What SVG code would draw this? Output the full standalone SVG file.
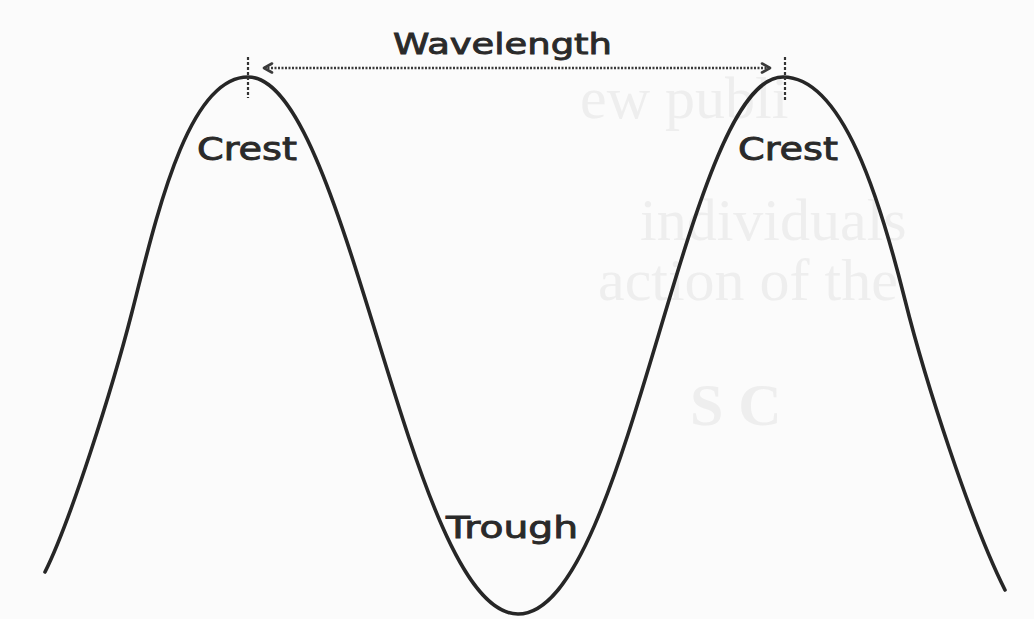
<svg xmlns="http://www.w3.org/2000/svg" width="1034" height="619" viewBox="0 0 1034 619">
  <style>
    .bg { fill: #fbfbfb; }
    .ghost { font-family: "Liberation Serif", serif; font-size: 60px; fill: #eeeeee; }
    .wave { fill: none; stroke: #262626; stroke-width: 3.6; stroke-linecap: round; stroke-linejoin: round; }
    .label { font-family: "DejaVu Sans", "Liberation Sans", sans-serif; fill: #2a2a2a; stroke: #2a2a2a; stroke-width: 0.9; }
    .tick { stroke: #333; stroke-width: 2.2; stroke-dasharray: 3 2; fill: none; }
    .dim { stroke: #3a3a3a; stroke-width: 2.6; stroke-dasharray: 2 1.5; fill: none; }
    .head { fill: none; stroke: #3a3a3a; stroke-width: 2.6; stroke-linecap: round; stroke-linejoin: round; }
  </style>
  <defs>
    <marker id="arrowEnd" viewBox="0 0 12 12" refX="10" refY="6" markerWidth="12" markerHeight="12" markerUnits="userSpaceOnUse" orient="auto">
      <path class="head" d="M2,1.5 L10,6 L2,10.5"/>
    </marker>
    <marker id="arrowStart" viewBox="0 0 12 12" refX="2" refY="6" markerWidth="12" markerHeight="12" markerUnits="userSpaceOnUse" orient="auto">
      <path class="head" d="M10,1.5 L2,6 L10,10.5"/>
    </marker>
  </defs>
  <rect class="bg" x="0" y="0" width="1034" height="619"/>
  <g id="bleed-through">
    <text class="ghost" x="580" y="118">ew publi</text>
    <text class="ghost" x="640" y="240">individuals</text>
    <text class="ghost" x="598" y="300">action of the</text>
    <text class="ghost" x="690" y="425" font-weight="bold">S C</text>
  </g>
  <g id="wave">
    <path class="wave" d="M45,572 C70,522 112,390 132,312 C157,214 188,77 248,77 C348,77 409,614 518,614 C629,614 685,77 783,77 C843,77 880,200 905,300 C925,380 970,520 1005,590"/>
  </g>
  <g id="connectors">
    <line class="tick" x1="248" y1="57" x2="248" y2="98"/>
    <line class="tick" x1="785" y1="57" x2="785" y2="100"/>
    <line class="dim" x1="264" y1="68" x2="770" y2="68" marker-start="url(#arrowStart)" marker-end="url(#arrowEnd)"/>
  </g>
  <g id="label-wavelength">
    <text class="label" x="393" y="54" font-size="29" textLength="219" lengthAdjust="spacingAndGlyphs">Wavelength</text>
  </g>
  <g id="label-crest-left">
    <text class="label" x="197" y="160" font-size="32" textLength="100" lengthAdjust="spacingAndGlyphs">Crest</text>
  </g>
  <g id="label-crest-right">
    <text class="label" x="738" y="160" font-size="32" textLength="100" lengthAdjust="spacingAndGlyphs">Crest</text>
  </g>
  <g id="label-trough">
    <text class="label" x="446" y="538" font-size="31" textLength="132" lengthAdjust="spacingAndGlyphs">Trough</text>
  </g>
</svg>
